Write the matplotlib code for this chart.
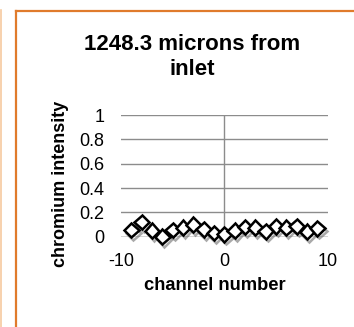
import matplotlib
matplotlib.use("Agg")
import matplotlib.pyplot as plt
from matplotlib.lines import Line2D
import matplotlib.patheffects as pe

plt.rcParams['font.family'] = ['Liberation Sans', 'DejaVu Sans']
plt.rcParams['axes.unicode_minus'] = False

# channel positions and measured chromium intensity
channels = [-9, -8, -7, -6, -5, -4, -3, -2, -1, 0, 1, 2, 3, 4, 5, 6, 7, 8, 9]
intensity = [0.055, 0.12, 0.05, 0.0, 0.055, 0.075, 0.10, 0.06, 0.03, 0.02,
             0.05, 0.08, 0.075, 0.045, 0.085, 0.075, 0.085, 0.04, 0.07]
yticks = [0, 0.2, 0.4, 0.6, 0.8, 1]
xticks = [-10, 0, 10]

W, H = 354, 327
fig = plt.figure(figsize=(W / 100, H / 100), dpi=100)

# frame lines like the spreadsheet screenshot
fig.add_artist(Line2D([0.5 / W, 0.5 / W], [0, 1 - 10 / H], color='#f6caa0', lw=1.2))
fig.add_artist(Line2D([16 / W, 16 / W], [0, 1 - 10.5 / H], color='#e07b2c', lw=1.6))
fig.add_artist(Line2D([16 / W, 1], [1 - 10.5 / H, 1 - 10.5 / H], color='#e07b2c', lw=1.6))

ax = fig.add_axes([121 / W, 90.3 / H, (327.7 - 121) / W, (236.7 - 115) / H])
ax.set_xlim(-10, 10)
ax.set_ylim(0, 1)
ax.set_yticks(yticks)
ax.set_yticklabels(['0', '0.2', '0.4', '0.6', '0.8', '1'])
ax.set_xticks(xticks)
ax.tick_params(length=0, labelsize=13)
ax.tick_params(axis='y', pad=12)
ax.tick_params(axis='x', pad=12)
ax.grid(axis='y', color='#8c8c8c', lw=1)
ax.set_axisbelow(True)
for s in ax.spines.values():
    s.set_visible(False)
ax.axvline(0, color='#8c8c8c', lw=1, zorder=1)
ax.axhline(0, color='#8c8c8c', lw=1, zorder=1)

ax.plot(channels, intensity, linestyle='none', marker='D', markersize=7.5,
        markerfacecolor='white', markeredgecolor='black', markeredgewidth=1.8,
        clip_on=False, zorder=3,
        path_effects=[pe.SimpleLineShadow(offset=(1.5, -2), shadow_color='#555555', alpha=0.5),
                      pe.Normal()])

ax.set_xlabel('channel number', fontsize=13.2, fontweight='bold', va='center')
ax.xaxis.set_label_coords(0.455, -0.397)
ax.set_ylabel('chromium intensity', fontsize=13, fontweight='bold', va='center')
ax.yaxis.set_label_coords(-0.295, 0.433)
fig.text(192 / W, 1 - 57 / H, '1248.3 microns from\ninlet', ha='center', va='center',
         fontsize=16, fontweight='bold', linespacing=1.2)

fig.savefig('out.png', dpi=100)
